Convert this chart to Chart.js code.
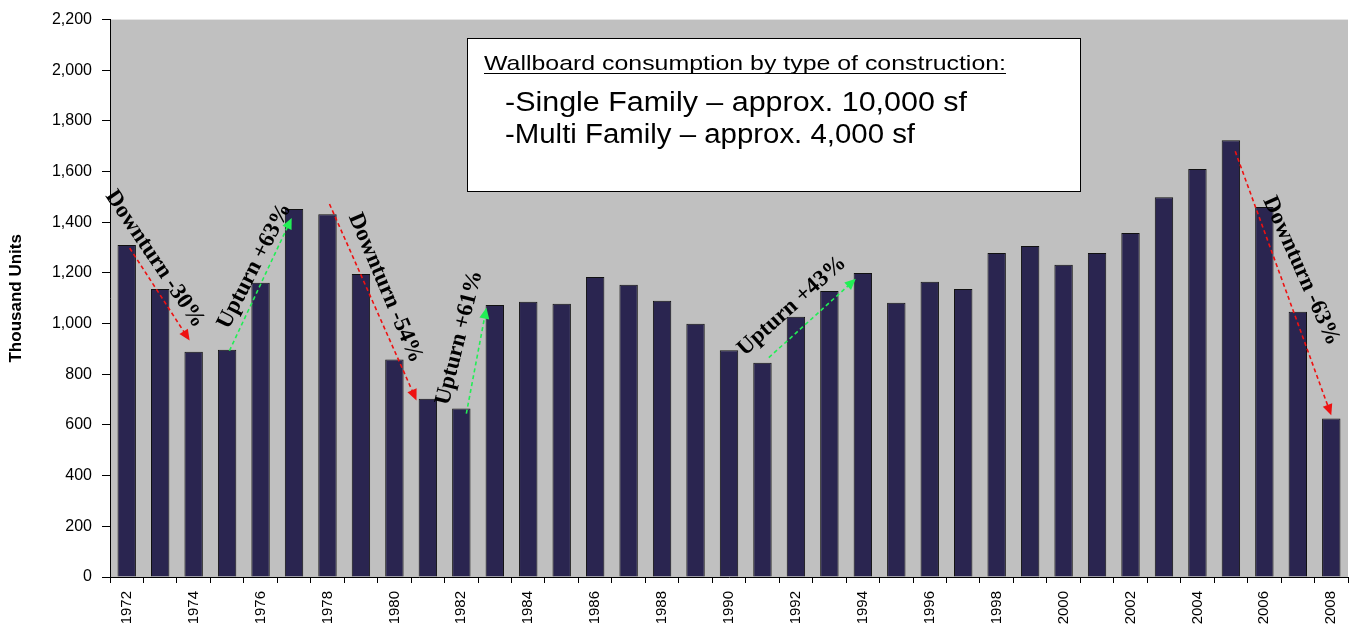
<!DOCTYPE html>
<html>
<head>
<meta charset="utf-8">
<script src="https://cdn.jsdelivr.net/npm/chart.js@4.4.1/dist/chart.umd.min.js"></script>
<style>
  html, body { margin:0; padding:0; background:#fff; }
  #wrap { width:1350px; height:633px; }
</style>
</head>
<body>
<div id="wrap"><canvas id="chart" width="1350" height="633"></canvas></div>
<script>
// ── DATA ──
const years = [];
for (let y = 1972; y <= 2008; y++) years.push(String(y));

const units = [
    1310, 1137, 889, 897, 1161, 1452, 1432, 1196, 858, 704,
    665, 1074, 1086, 1078, 1184, 1153, 1090, 1000, 895, 846,
    1027, 1129, 1200, 1082, 1165, 1137, 1279, 1306, 1232, 1279,
    1358, 1499, 1610, 1724, 1460, 1047, 626
];

const yTicks = [0, 200, 400, 600, 800, 1000, 1200, 1400, 1600, 1800, 2000, 2200];

// arrows: start year/value -> end year/value
const arrowStartYear = [1972.09, 1975.07, 1978.06, 1982.15, 1991.19, 2005.13];
const arrowStartVal  = [1298, 893, 1472, 645, 866, 1680];
const arrowEndYear   = [1973.88, 1976.93, 1980.66, 1982.75, 1993.79, 2008.0];
const arrowEndVal    = [933, 1417, 697, 1063, 1177, 638];
const arrowLabels    = ['Downturn -30%', 'Upturn +63%', 'Downturn -54%', 'Upturn +61%', 'Upturn +43%', 'Downturn -63%'];
const labelYear      = [1972.84, 1975.82, 1979.73, 1981.94, 1991.88, 2007.1];
const labelVal       = [1255, 1228, 1141, 944, 1070, 1208];
const labelAngle     = [56, -63, 67, -76, -42, 66];

const noteTitle = 'Wallboard consumption by type of construction:';
const noteLines = ['-Single Family \u2013 approx. 10,000 sf', '-Multi Family \u2013 approx. 4,000 sf'];

// ── PLUGINS ──
const plotBg = {
    id: 'plotBg',
    beforeDraw(chart) {
        const { ctx, chartArea: a } = chart;
        ctx.save();
        ctx.fillStyle = '#c0c0c0';
        ctx.fillRect(a.left, a.top, a.right - a.left, a.bottom - a.top);
        ctx.restore();
    }
};

function xForYear(chart, yr) {
    const s = chart.scales.x;
    const i = yr - 1972;
    const i0 = Math.floor(i);
    const p0 = s.getPixelForValue(i0);
    const p1 = s.getPixelForValue(i0 + 1);
    return p0 + (p1 - p0) * (i - i0);
}

// text stretched horizontally to a given width (the original box text is wide)
function wideText(ctx, txt, x, y, width) {
    const w = ctx.measureText(txt).width;
    ctx.save();
    ctx.translate(x, y);
    ctx.scale(width / w, 1);
    ctx.fillText(txt, 0, 0);
    ctx.restore();
}

const annotations = {
    id: 'annotations',
    afterDatasetsDraw(chart) {
        const { ctx } = chart;
        const ys = chart.scales.y;
        ctx.save();

        // arrows
        arrowLabels.forEach((lbl, k) => {
            const up = lbl.startsWith('Up');
            const col = up ? '#22ee55' : '#ee1111';
            const x0 = xForYear(chart, arrowStartYear[k]), y0 = ys.getPixelForValue(arrowStartVal[k]);
            const x1 = xForYear(chart, arrowEndYear[k]),   y1 = ys.getPixelForValue(arrowEndVal[k]);
            const ang = Math.atan2(y1 - y0, x1 - x0);
            const head = 11;
            ctx.strokeStyle = col;
            ctx.lineWidth = 1.6;
            ctx.setLineDash([4, 3]);
            ctx.beginPath();
            ctx.moveTo(x0, y0);
            ctx.lineTo(x1 - Math.cos(ang) * head * 0.8, y1 - Math.sin(ang) * head * 0.8);
            ctx.stroke();
            ctx.setLineDash([]);
            ctx.fillStyle = col;
            ctx.beginPath();
            ctx.moveTo(x1, y1);
            ctx.lineTo(x1 - Math.cos(ang) * head + Math.sin(ang) * 5, y1 - Math.sin(ang) * head - Math.cos(ang) * 5);
            ctx.lineTo(x1 - Math.cos(ang) * head - Math.sin(ang) * 5, y1 - Math.sin(ang) * head + Math.cos(ang) * 5);
            ctx.closePath();
            ctx.fill();

            // label
            ctx.save();
            ctx.translate(xForYear(chart, labelYear[k]), ys.getPixelForValue(labelVal[k]));
            ctx.rotate(labelAngle[k] * Math.PI / 180);
            ctx.fillStyle = '#000';
            ctx.font = 'bold 23px "Liberation Serif", "DejaVu Serif", serif';
            ctx.textAlign = 'center';
            ctx.textBaseline = 'middle';
            ctx.fillText(lbl, 0, 0);
            ctx.restore();
        });

        // note box
        const bx = 467, by = 38, bw = 613, bh = 153;
        ctx.fillStyle = '#fff';
        ctx.fillRect(bx, by, bw, bh);
        ctx.strokeStyle = '#000';
        ctx.lineWidth = 1;
        ctx.strokeRect(bx + 0.5, by + 0.5, bw, bh);

        ctx.fillStyle = '#000';
        ctx.textAlign = 'left';
        ctx.textBaseline = 'alphabetic';
        ctx.font = '21px "Liberation Sans", Arial, sans-serif';
        wideText(ctx, noteTitle, 484, 70, 522);
        ctx.fillRect(484, 73, 522, 1);
        ctx.font = '27px "Liberation Sans", Arial, sans-serif';
        wideText(ctx, noteLines[0], 505, 111, 462);
        wideText(ctx, noteLines[1], 505, 143, 410);

        ctx.restore();
    }
};

// ── CHART ──
const ctx = document.getElementById('chart');
new Chart(ctx, {
    type: 'bar',
    data: {
        labels: years,
        datasets: [{
            data: units,
            backgroundColor: '#2a2550',
            borderColor: '#111',
            borderWidth: 1,
            barPercentage: 0.55,
            categoryPercentage: 1.0
        }]
    },
    options: {
        responsive: false,
        devicePixelRatio: 1,
        animation: false,
        layout: { padding: { top: 18, right: 2, left: 0, bottom: 0 } },
        plugins: {
            legend: { display: false },
            tooltip: { enabled: false }
        },
        scales: {
            x: {
                offset: true,
                grid: { offset: true, drawOnChartArea: false, color: '#000', tickLength: 6, tickWidth: 1 },
                border: { color: '#000', width: 1 },
                ticks: {
                    autoSkip: false, maxRotation: 90, minRotation: 90, padding: 8,
                    color: '#000', font: { family: '"Liberation Sans", Arial, sans-serif', size: 15 },
                    callback: (v, i) => i % 2 === 0 ? years[i] : ''
                },
                afterFit: s => { s.height = 56; s.paddingLeft = 0; s.paddingRight = 0; }
            },
            y: {
                min: 0, max: 2200,
                afterBuildTicks: s => { s.ticks = yTicks.map(v => ({ value: v })); },
                grid: { drawOnChartArea: false, color: '#000', tickLength: 8 },
                border: { color: '#000', width: 1 },
                ticks: {
                    padding: 10, color: '#000',
                    font: { family: '"Liberation Sans", Arial, sans-serif', size: 16 },
                    callback: v => v.toLocaleString('en-US')
                },
                title: {
                    display: true, text: 'Thousand Units', color: '#000', padding: { top: 6, bottom: 0 },
                    font: { family: '"Liberation Sans", Arial, sans-serif', size: 17, weight: 'bold' }
                },
                afterFit: s => { s.width = 110; }
            }
        }
    },
    plugins: [plotBg, annotations]
});
</script>
</body>
</html>
